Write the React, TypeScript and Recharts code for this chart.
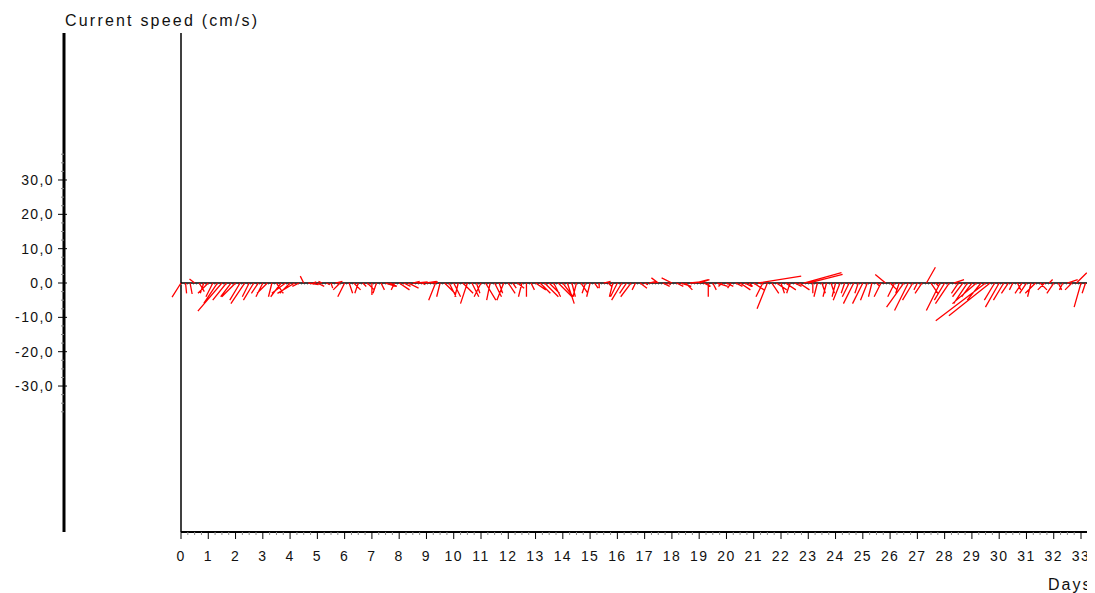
import { LineChart, Line, XAxis, YAxis, ReferenceLine } from "recharts";

// sampling: 6 current readings per day (every 4 h), starting at day 0
const STEP = 1 / 6;

// east component of current (cm/s), one row per day
const speedU = [
  -2.6, 0.3, 0.6, -1.5, 1.5, -1.0, // day 0
  -3, -2, -4, -7, -4, -3, // 1
  -4, -3, -4, -2, -3, -2, // 2
  -2, -3, -1, 2, -3, -4, // 3
  -3, -5, -2, -1, 3, 1, // 4
  2, -1, 1, 0.5, 2, -2, // 5
  -2, 1, 2, -1, 1, 2, // 6
  0, -1, 1, 3, 2, -1, // 7
  3, 2, 3, 2, 3, 1, // 8
  3, 2, -2, -1, 3, 2, // 9
  2, -1, 3, -2, 2, 1, // 10
  -2, 3, -1, 2, 1, -2, // 11
  2, 1, 2, -1, 0, 1, // 12
  3, 3, 4, 3, 2, 4, // 13
  3, 2, 1, -1, 2, -1, // 14
  -1, 1, 0, 2, 1, -1, // 15
  -2, -3, -2, -3, -1, 2, // 16
  1, 2, 1, -2, 2, 1, // 17
  -3, 2, 3, 2, 3, 4, // 18
  3, 2, 0, 1, 3, -1, // 19
  2, -1, 2, 3, 2, 1, // 20
  3, 12.5, -2, -3, 2, 3, // 21
  1, 3, -1, 2, 3, 11, // 22
  10, 0, -1, 1, -1, 1, // 23
  -1, -2, -1, -2, -3, -1, // 24
  -3, -2, -1, 1, -2, -3, // 25
  2, -2, -1, -5, -4, -3, // 26
  -1, -2, 2.6, 2, 1, -4, // 27
  -3, -4, 3, -2, -3, -4, // 28
  -3, -7, -4, -14.5, -12, -3, // 29
  -4, -3, -2, -1, 1, -2, // 30
  -2, -1, -3, 2, -2, 1, // 31
  -2, 1, -1, 3, -2, 3, // 32
  -2, -1, 2, // 33
];

// north component of current (cm/s)
const speedV = [
  -4.1, -3.0, -3.2, 1.2, -2.5, -3.0, // day 0
  -3, -4, -6, -8.2, -5, -4, // 1
  -4, -5, -6, -4, -5, -3, // 2
  -4, -3, -4, -3, -4, -3, // 3
  -3, -3, -1, 2, -0.5, 0.3, // 4
  -1, 0.5, -0.5, -1.5, 0.5, -2, // 5
  -4, -3, -2, -3, -1, -2, // 6
  -3.5, -3, -2, -1, -1, -2, // 7
  -2, -1, -1.5, 0.5, 0.3, -0.5, // 8
  0.5, 0.3, -5, -4, -3, -4, // 9
  -4, -4, -3, -6, -4, -3, // 10
  -4, -5, -5, -4, -3, -5, // 11
  -3, -1.5, -1.5, -4, -4, -2, // 12
  -2, -3, -4, -3, -4, -4, // 13
  -4, -6, -4, -4, -3, -3, // 14
  -4, -1.5, -1.5, 0.5, -1, -4, // 15
  -4, -5, -3, -4, -2, -1.5, // 16
  -0.5, 0.5, 0.3, 1.5, -1, -0.5, // 17
  1.5, -1, -1, -2, 0.3, 1, // 18
  1, -1, -4, -2, -1, -1, // 19
  -1, -1.5, -1, -2, -1, -1, // 20
  -2, 2, -4, -7.5, -3, -2, // 21
  -3, -2, -3, -1, -2, 3, // 22
  2.5, -3, -4, -3, -4, -3, // 23
  -4, -5, -3, -4, -6, -3, // 24
  -6, -5, -4, -1, -4, 2.5, // 25
  -2, -4, -3, -7, -8, -5, // 26
  -2, -3, 4.6, -3, -1, -8, // 27
  -5, -6, 1, -3, -4, -6, // 28
  -4, -6, -5, -11, -9.5, -5, // 29
  -7, -5, -3, -2, -2, -3, // 30
  -3, -4, -3, -2, -2, 1, // 31
  -3, -2, -2, 1, -2, 3, // 32
  -7, -3, -2, // 33
];

const dayTicks = Array.from({ length: 135 }, (_, i) => i * 0.25);
const speedTicks = Array.from({ length: 31 }, (_, i) => -37.5 + i * 2.5);

const W = 1095;
const H = 585;
const MARGIN = { top: 25, right: 0, bottom: 31, left: 0 };
const Y_AXIS_W = 64;
const X_AXIS_H = 30;
const X_DOMAIN: [number, number] = [-4.29, 33.513];
const Y_DOMAIN: [number, number] = [-72.5, 72.8];

const plotW = W - Y_AXIS_W - MARGIN.left - MARGIN.right;
const plotH = H - MARGIN.top - MARGIN.bottom - X_AXIS_H;
// sticks share one pixel scale for both components -> convert cm/s to days
const daysPerCm =
  plotH / (Y_DOMAIN[1] - Y_DOMAIN[0]) / (plotW / (X_DOMAIN[1] - X_DOMAIN[0]));

const stickData: { x: number; y: number | null }[] = [];
speedU.forEach((u, i) => {
  const t = i * STEP;
  const tip = t + u * daysPerCm;
  stickData.push({ x: t, y: 0 }, { x: tip, y: speedV[i] }, { x: tip, y: null });
});

const FONT = "'Liberation Sans', Arial, sans-serif";

const XTick = (props: any) => {
  const { x, y, payload } = props;
  const v = payload.value;
  const major = Math.abs(v - Math.round(v)) < 1e-6;
  return (
    <g>
      <line x1={x} x2={x} y1={y} y2={y + (major ? 7 : 3)} stroke={major ? "#000" : "#888"} strokeWidth={1} />
      {major && (
        <text x={x} y={y + 29} textAnchor="middle" fontSize={14} fontFamily={FONT} letterSpacing={1.4} fill="#111">
          {v}
        </text>
      )}
    </g>
  );
};

const YTick = (props: any) => {
  const { x, y, payload } = props;
  const v = payload.value;
  const major = Math.abs(v % 10) < 1e-6;
  if (!major) {
    return <line x1={x - 3} x2={x} y1={y} y2={y} stroke="#888" strokeWidth={1} />;
  }
  return (
    <g>
      <line x1={x - 6} x2={x + 3} y1={y} y2={y} stroke="#000" strokeWidth={1} />
      <text x={x - 10} y={y + 5} textAnchor="end" fontSize={14} fontFamily={FONT} letterSpacing={1.4} fill="#111">
        {v.toFixed(1).replace(".", ",")}
      </text>
    </g>
  );
};

export default function App() {
  return (
    <div style={{ position: "relative", width: W, height: H, marginLeft: -8 }}>
      <style>{"html, body { overflow: hidden; }"}</style>
      <LineChart width={W} height={H} data={stickData} margin={MARGIN}>
        <XAxis
          dataKey="x"
          type="number"
          domain={X_DOMAIN}
          allowDataOverflow
          ticks={dayTicks}
          interval={0}
          height={X_AXIS_H}
          axisLine={false}
          tickLine={false}
          tickSize={0}
          tickMargin={0}
          tick={(p: any) => <XTick {...p} />}
        />
        <YAxis
          type="number"
          domain={Y_DOMAIN}
          allowDataOverflow
          ticks={speedTicks}
          interval={0}
          width={Y_AXIS_W}
          axisLine={{ stroke: "#000", strokeWidth: 3 }}
          tickLine={false}
          tickSize={0}
          tickMargin={0}
          tick={(p: any) => <YTick {...p} />}
        />
        <ReferenceLine x={0} stroke="#000" strokeWidth={1.5} />
        <ReferenceLine
          segment={[{ x: 0, y: Y_DOMAIN[0] }, { x: X_DOMAIN[1], y: Y_DOMAIN[0] }]}
          stroke="#000"
          strokeWidth={2}
        />
        <ReferenceLine
          segment={[{ x: 0, y: -0.35 }, { x: X_DOMAIN[1], y: -0.35 }]}
          stroke="#999"
          strokeDasharray="1 2"
          strokeWidth={1}
        />
        <ReferenceLine
          segment={[{ x: 0, y: 0 }, { x: X_DOMAIN[1], y: 0 }]}
          stroke="#000"
          strokeWidth={1.5}
        />
        <Line
          dataKey="y"
          stroke="#ff0000"
          strokeWidth={1.3}
          dot={false}
          activeDot={false}
          connectNulls={false}
          isAnimationActive={false}
        />
      </LineChart>
      <svg width={W} height={H} style={{ position: "absolute", left: 0, top: 0, pointerEvents: "none" }}>
        <text x={65} y={18} fontSize={16} fontFamily={FONT} letterSpacing={2.2} fill="#111">
          Current speed (cm/s)
        </text>
        <text x={1048} y={582} fontSize={16} fontFamily={FONT} letterSpacing={2} fill="#111">
          Days
        </text>
      </svg>
    </div>
  );
}
